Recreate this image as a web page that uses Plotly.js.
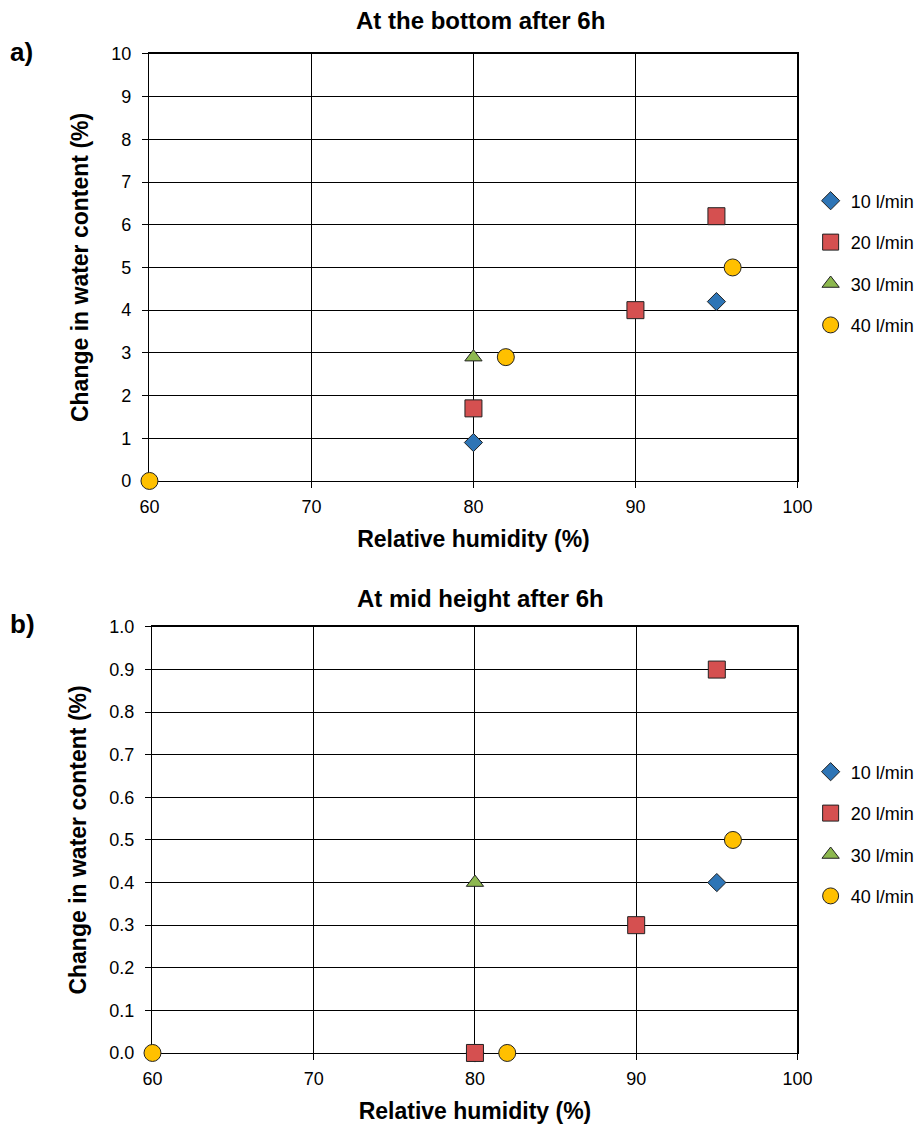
<!DOCTYPE html>
<html><head><meta charset="utf-8">
<script src="https://cdn.plot.ly/plotly-3.0.1.min.js"></script>
<style>html,body{margin:0;padding:0;background:#fff}#chart{width:920px;height:1124px}</style>
</head><body><div id="chart"></div>
<script>
// Panel a) At the bottom after 6h
const seriesNames = ["10 l/min", "20 l/min", "30 l/min", "40 l/min"];
const a_rh_10 = [80, 95];           const a_wc_10 = [0.9, 4.2];
const a_rh_20 = [80, 90, 95];       const a_wc_20 = [1.7, 4.0, 6.2];
const a_rh_30 = [80];               const a_wc_30 = [2.9];
const a_rh_40 = [60, 82, 96];       const a_wc_40 = [0, 2.9, 5.0];
// Panel b) At mid height after 6h
const b_rh_10 = [80, 95];           const b_wc_10 = [0.0, 0.4];
const b_rh_20 = [80, 90, 95];       const b_wc_20 = [0.0, 0.3, 0.9];
const b_rh_30 = [80];               const b_wc_30 = [0.4];
const b_rh_40 = [60, 82, 96];       const b_wc_40 = [0.0, 0.0, 0.5];
const xTicks = [60, 70, 80, 90, 100];
const titleA = "At the bottom after 6h";
const titleB = "At mid height after 6h";
const xTitle = "Relative humidity (%)";
const yTitle = "Change in water content (%)";

const colors = ["#2e75b6", "#d55050", "#8db84f", "#ffc000"];
const symbols = ["diamond", "square", "triangle-up", "circle"];
const sizes = [14, 17, 15, 17];
const FONT = "Liberation Sans, Arial, sans-serif";

function mk(xs, ys, i, xa, ya, leg) {
  return {
    x: xs, y: ys, type: "scatter", mode: "markers", name: seriesNames[i],
    xaxis: xa, yaxis: ya, legend: leg, legendgroup: leg + i, cliponaxis: false,
    marker: {color: colors[i], symbol: symbols[i], size: sizes[i], line: {color: "#222", width: 1}}
  };
}
const data = [
  mk(a_rh_10, a_wc_10, 0, "x", "y", "legend"),
  mk(a_rh_20, a_wc_20, 1, "x", "y", "legend"),
  mk(a_rh_30, a_wc_30, 2, "x", "y", "legend"),
  mk(a_rh_40, a_wc_40, 3, "x", "y", "legend"),
  mk(b_rh_10, b_wc_10, 0, "x2", "y2", "legend2"),
  mk(b_rh_20, b_wc_20, 1, "x2", "y2", "legend2"),
  mk(b_rh_30, b_wc_30, 2, "x2", "y2", "legend2"),
  mk(b_rh_40, b_wc_40, 3, "x2", "y2", "legend2")
];

const axBase = {
  showline: true, linecolor: "#000", linewidth: 1.5, mirror: true, layer: "below traces",
  showgrid: true, gridcolor: "#000", gridwidth: 1, zeroline: false,
  ticks: "outside", ticklen: 6, tickcolor: "#000",
  tickfont: {family: FONT, size: 18, color: "#000"}
};
function xAx(domain, anchor) {
  return Object.assign({}, axBase, {
    domain: domain, anchor: anchor, range: [60, 100], tickvals: xTicks, ticklabelstandoff: 3,
    title: {text: "<b>" + xTitle + "</b>", font: {family: FONT, size: 23, color: "#000"}, standoff: 15}
  });
}
function yAx(domain, anchor, range, dtick, fmt) {
  return Object.assign({}, axBase, {
    domain: domain, anchor: anchor, range: range, dtick: dtick, tickformat: fmt, ticklabelstandoff: 7,
    title: {text: "<b>" + yTitle + "</b>", font: {family: FONT, size: 23, color: "#000"}, standoff: 16}
  });
}
const legBase = {
  xanchor: "left", yanchor: "middle", bgcolor: "rgba(0,0,0,0)",
  font: {family: FONT, size: 18, color: "#000"}, tracegroupgap: 15, itemsizing: "trace"
};
const layout = {
  width: 920, height: 1124, margin: {l: 0, r: 0, t: 0, b: 0},
  paper_bgcolor: "#fff", plot_bgcolor: "#fff", showlegend: true,
  xaxis: xAx([0.1630, 0.8696], "y"),
  yaxis: yAx([0.5721, 0.9520], "x", [0, 10], 1, ""),
  xaxis2: xAx([0.1663, 0.8696], "y2"),
  yaxis2: yAx([0.0632, 0.4422], "x2", [0, 1], 0.1, ".1f"),
  legend: Object.assign({}, legBase, {x: 0.884, y: 0.766}),
  legend2: Object.assign({}, legBase, {x: 0.884, y: 0.258}),
  annotations: [
    {text: "<b>" + titleA + "</b>", xref: "paper", yref: "paper", x: 0.524, y: 1 - 20/1124, yanchor: "middle", showarrow: false,
     font: {family: FONT, size: 24, color: "#000"}},
    {text: "<b>" + titleB + "</b>", xref: "paper", yref: "paper", x: 0.524, y: 1 - 598/1124, yanchor: "middle", showarrow: false,
     font: {family: FONT, size: 24, color: "#000"}},
    {text: "<b>a)</b>", xref: "paper", yref: "paper", x: 8/920, xanchor: "left", y: 1 - 52/1124, yanchor: "middle", showarrow: false,
     font: {family: FONT, size: 26, color: "#000"}},
    {text: "<b>b)</b>", xref: "paper", yref: "paper", x: 8/920, xanchor: "left", y: 1 - 624/1124, yanchor: "middle", showarrow: false,
     font: {family: FONT, size: 26, color: "#000"}}
  ]
};
Plotly.newPlot("chart", data, layout, {displayModeBar: false, staticPlot: true});
</script></body></html>
